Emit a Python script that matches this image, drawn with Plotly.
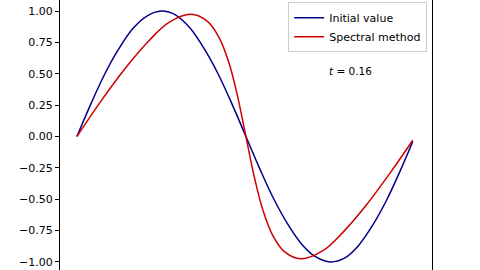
import plotly.graph_objects as go

# Initial value u0(x)
x_init = [0.0, 0.26, 0.52, 0.78, 1.04, 1.30, 1.57, 1.83, 2.09, 2.35, 2.61, 2.87, 3.14,
          3.40, 3.66, 3.92, 4.18, 4.44, 4.71, 4.97, 5.23, 5.49, 5.75, 6.01, 6.24]
y_init = [0.0, 0.26, 0.50, 0.70, 0.86, 0.96, 1.0, 0.97, 0.87, 0.71, 0.51, 0.27, 0.0,
          -0.26, -0.50, -0.70, -0.86, -0.96, -1.0, -0.97, -0.87, -0.71, -0.51, -0.27, -0.04]

# Spectral method solution at t = 0.16
x_spec = [0.0, 0.46, 0.91, 1.33, 1.71, 2.12, 2.42, 2.64, 2.83, 2.98, 3.14,
          3.30, 3.45, 3.64, 3.86, 4.16, 4.57, 4.95, 5.37, 5.82, 6.24]
y_spec = [0.0, 0.29, 0.55, 0.76, 0.91, 0.975, 0.92, 0.79, 0.58, 0.33, 0.0,
          -0.33, -0.58, -0.79, -0.92, -0.975, -0.91, -0.76, -0.55, -0.29, -0.03]

y_ticks = [1.0, 0.75, 0.5, 0.25, 0.0, -0.25, -0.5, -0.75, -1.0]
y_labels = ["1.00", "0.75", "0.50", "0.25", "0.00", "\u22120.25", "\u22120.50", "\u22120.75", "\u22121.00"]

fig = go.Figure()
fig.add_trace(go.Scatter(x=x_init, y=y_init, mode="lines", name="Initial value",
                         line=dict(color="#00008b", width=1.5, shape="spline")))
fig.add_trace(go.Scatter(x=x_spec, y=y_spec, mode="lines", name="Spectral method",
                         line=dict(color="#cc0000", width=1.5, shape="spline")))

fig.add_annotation(x=0.782, y=0.737, xref="paper", yref="paper", text="<i>t</i> = 0.16",
                   xanchor="center", yanchor="middle",
                   showarrow=False, font=dict(family="DejaVu Sans", size=10.5, color="black"))

fig.update_layout(
    width=480, height=270,
    margin=dict(l=60, r=48, t=0, b=0),
    paper_bgcolor="white", plot_bgcolor="white",
    font=dict(family="DejaVu Sans", size=11, color="black"),
    showlegend=True,
    legend=dict(x=0.987, y=0.992, xanchor="right", yanchor="top",
                bgcolor="rgba(255,255,255,0.8)", bordercolor="#cccccc", borderwidth=1,
                font=dict(size=11), itemwidth=30, tracegroupgap=0),
    xaxis=dict(range=[-0.314, 6.597], showgrid=False, zeroline=False, showline=False,
               showticklabels=False, ticks=""),
    yaxis=dict(range=[-1.064, 1.088], showgrid=False, zeroline=False, showline=True,
               linecolor="black", linewidth=1, mirror=True, ticks="outside", ticklen=4,
               tickcolor="black", tickvals=y_ticks, ticktext=y_labels),
)

fig.write_html("out.html")
